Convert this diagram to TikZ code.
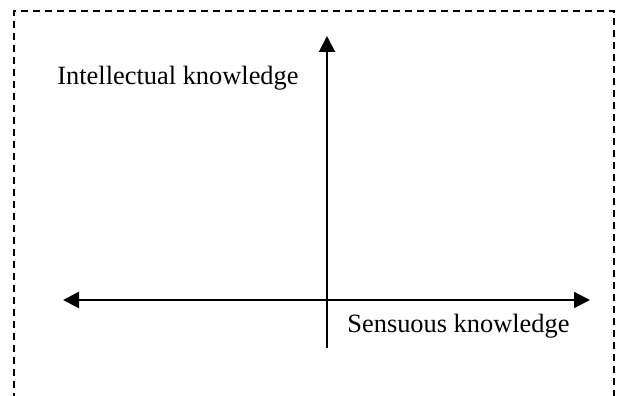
\documentclass[tikz,border=0pt]{standalone}
\usepackage{fontspec}
\setmainfont{Liberation Serif}
\usetikzlibrary{arrows.meta}

\begin{document}
\begin{tikzpicture}[x=0.5pt, y=0.5pt,
        axis/.style={line width=1pt, {Triangle[length=8pt,width=8pt]}-{Triangle[length=8pt,width=8pt]}},
        frame/.style={line width=0.75pt, dash pattern=on 3.5pt off 2.5pt},
        lbl/.style={font=\fontsize{13.2}{15}\selectfont, inner sep=0pt, anchor=base west}
      ]
        \useasboundingbox (0,0) rectangle (617,396);
        \draw[frame] (14,-4) -- (14,385) -- (614,385) -- (614,-4);
        \coordinate (west) at (63,96);
        \coordinate (east) at (590,96);
        \coordinate (north) at (327,360);
        \coordinate (south) at (327,48);
        \node[lbl] (intel) at (57,311) {Intellectual knowledge};
        \node[lbl] (sens) at (347,63) {Sensuous knowledge};
        \draw[axis] (west)--(east);
        \draw[axis, {Triangle[length=8pt,width=8pt]}-] (north)--(south);
      \end{tikzpicture}
\end{document}
